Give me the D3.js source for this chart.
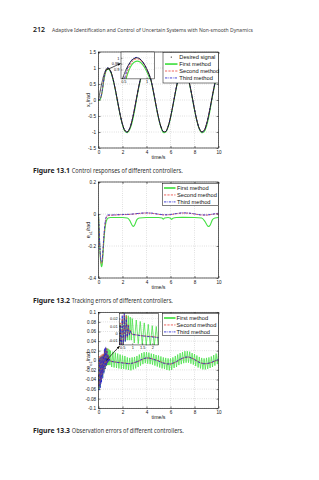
<!DOCTYPE html>
<html><head><meta charset="utf-8">
<script src="https://cdn.jsdelivr.net/npm/d3@7"></script>
<style>body{margin:0;background:#fff}svg{display:block}</style>
</head><body><svg id="c" width="319" height="480"></svg>
<script>
// ---------- text ----------
const headerPage = "212";
const headerTitle = "Adaptive Identification and Control of Uncertain Systems with Non-smooth Dynamics";
const captionLabels = ["Figure 13.1", "Figure 13.2", "Figure 13.3"];
const captionTexts = ["Control responses of different controllers.", "Tracking errors of different controllers.", "Observation errors of different controllers."];
const legend1 = ["Desired signal", "First method", "Second method", "Third method"];
const legend23 = ["First method", "Second method", "Third method"];
const xLabel = "time/s";

// ---------- ticks ----------
const xTicks = [0, 2, 4, 6, 8, 10];
const fig1YTicks = [-1.5, -1, -0.5, 0, 0.5, 1, 1.5];
const fig2YTicks = [-0.4, -0.2, 0, 0.2];
const fig3YTicks = [-0.1, -0.08, -0.06, -0.04, -0.02, 0, 0.02, 0.04, 0.06, 0.08, 0.1];
const inset1XTicks = [0.5, 1];
const inset1YTicks = [0.9, 0.95, 1];
const inset3XTicks = [0.5, 1, 1.5, 2];
const inset3YTicks = [-0.01, 0, 0.01, 0.02];

// ---------- Figure 13.1 data ----------
const fig1Time = [0,0.1,0.2,0.3,0.4,0.5,0.6,0.7,0.8,1,1.2,1.4,1.6,1.8,2,2.2,2.4,2.6,2.8,3,3.2,3.4,3.6,3.8,4,4.2,4.4,4.6,4.8,5,5.2,5.4,5.6,5.8,6,6.2,6.4,6.6,6.8,7,7.2,7.4,7.6,7.8,8,8.2,8.4,8.6,8.8,9,9.2,9.4,9.6,9.8,10];
const fig1Desired = [0,0.199,0.389,0.565,0.717,0.841,0.932,0.985,1.000,0.909,0.675,0.335,-0.058,-0.443,-0.757,-0.952,-0.996,-0.883,-0.631,-0.279,0.117,0.494,0.794,0.968,0.989,0.855,0.585,0.223,-0.175,-0.544,-0.828,-0.981,-0.980,-0.825,-0.537,-0.166,0.231,0.592,0.859,0.991,0.966,0.788,0.487,0.108,-0.288,-0.638,-0.887,-0.996,-0.951,-0.751,-0.436,-0.050,0.342,0.680,0.913];
const fig1First = [0,-0.001,0.079,0.245,0.497,0.721,0.872,0.950,0.975,0.887,0.653,0.313,-0.080,-0.465,-0.779,-0.974,-1.021,-0.923,-0.701,-0.349,0.082,0.472,0.772,0.946,0.967,0.833,0.563,0.201,-0.197,-0.566,-0.850,-1.013,-1.003,-0.847,-0.563,-0.192,0.209,0.570,0.837,0.970,0.944,0.766,0.465,0.086,-0.310,-0.660,-0.909,-1.021,-0.991,-0.820,-0.514,-0.085,0.317,0.658,0.891];
const fig1Second = [0,0.009,0.089,0.255,0.517,0.741,0.892,0.970,0.990,0.901,0.669,0.330,-0.062,-0.447,-0.760,-0.955,-0.999,-0.886,-0.632,-0.279,0.119,0.498,0.799,0.974,0.995,0.859,0.587,0.222,-0.177,-0.546,-0.833,-0.987,-0.987,-0.830,-0.539,-0.166,0.233,0.596,0.865,0.997,0.971,0.792,0.487,0.107,-0.290,-0.643,-0.893,-1.003,-0.958,-0.756,-0.437,-0.052,0.341,0.681,0.917];
const fig1Third = [0,0.019,0.099,0.275,0.537,0.771,0.922,0.990,1.003,0.903,0.670,0.331,-0.061,-0.446,-0.760,-0.955,-0.999,-0.886,-0.632,-0.279,0.119,0.498,0.799,0.974,0.995,0.859,0.587,0.222,-0.177,-0.546,-0.833,-0.987,-0.987,-0.830,-0.539,-0.166,0.233,0.596,0.865,0.997,0.971,0.792,0.487,0.107,-0.290,-0.643,-0.893,-1.003,-0.958,-0.756,-0.437,-0.052,0.341,0.681,0.917];
// zoomed inset of Figure 13.1
const inset1Time = [0.45,0.5,0.55,0.6,0.65,0.7,0.75,0.8,0.85,0.9,0.95,1,1.05,1.1,1.15];
const inset1Desired = [0.783,0.841,0.891,0.932,0.964,0.985,0.997,1.000,0.992,0.974,0.946,0.909,0.863,0.808,0.746];
const inset1First = [0.61,0.72,0.806,0.872,0.919,0.950,0.967,0.972,0.966,0.949,0.922,0.886,0.840,0.785,0.724];
const inset1Second = [0.63,0.74,0.83,0.897,0.944,0.973,0.988,0.992,0.984,0.966,0.938,0.901,0.855,0.800,0.738];
const inset1Third = [0.66,0.77,0.86,0.922,0.964,0.990,1.002,1.003,0.993,0.972,0.943,0.905,0.858,0.802,0.740];

// ---------- Figure 13.2 data ----------
const fig2TimeFirst = [0,0.05,0.1,0.15,0.2,0.25,0.3,0.35,0.4,0.5,0.6,0.7,0.8,1,1.5,2,2.4,2.6,2.8,2.9,3,3.2,3.4,4,5,5.3,5.4,5.5,5.8,6,6.1,6.2,6.5,7,8,8.6,8.9,9.1,9.2,9.3,9.5,9.7,10];
const fig2First = [0,-0.10,-0.20,-0.27,-0.31,-0.33,-0.32,-0.28,-0.22,-0.12,-0.06,-0.035,-0.025,-0.022,-0.022,-0.022,-0.025,-0.04,-0.07,-0.078,-0.07,-0.035,-0.025,-0.022,-0.022,-0.025,-0.032,-0.025,-0.022,-0.026,-0.034,-0.026,-0.022,-0.021,-0.022,-0.025,-0.05,-0.075,-0.078,-0.07,-0.035,-0.025,-0.022];
const fig2TimeOther = [0,0.05,0.1,0.15,0.2,0.25,0.3,0.35,0.4,0.5,0.6,0.7,0.8,1,1.5,2,2.5,3,3.5,4,4.5,5,5.5,6,6.5,7,7.5,8,8.5,9,9.5,10];
const fig2Second = [0,-0.09,-0.19,-0.26,-0.30,-0.31,-0.30,-0.26,-0.20,-0.10,-0.04,-0.015,-0.01,-0.008,-0.006,-0.004,-0.003,0,0.004,0.006,0.004,-0.002,-0.006,-0.004,0.002,0.006,0.005,0,-0.006,-0.007,-0.002,0.004];
const fig2Third = [0,-0.085,-0.18,-0.25,-0.29,-0.30,-0.29,-0.25,-0.19,-0.09,-0.03,-0.01,-0.005,-0.006,-0.005,-0.003,-0.002,0.001,0.005,0.007,0.005,-0.001,-0.005,-0.003,0.003,0.007,0.006,0.001,-0.005,-0.006,-0.001,0.005];

// ---------- Figure 13.3 data ----------
const fig3TimeFirst = [0,0.05,0.1,0.15,0.2,0.25,0.3,0.35,0.4,0.45,0.5,0.55,0.6,0.65,0.7,0.75,0.8,0.85,0.9,0.95,1,
 1.1,1.2,1.3,1.4,1.5,1.6,1.7,1.8,1.9,2,2.1,2.2,2.3,2.4,2.5,2.6,2.7,2.8,2.9,3,3.1,3.2,3.3,3.4,3.5,3.6,3.7,3.8,3.9,4,
 4.1,4.2,4.3,4.4,4.5,4.6,4.7,4.8,4.9,5,5.1,5.2,5.3,5.4,5.5,5.6,5.7,5.8,5.9,6,6.1,6.2,6.3,6.4,6.5,6.6,6.7,6.8,6.9,7,
 7.1,7.2,7.3,7.4,7.5,7.6,7.7,7.8,7.9,8,8.1,8.2,8.3,8.4,8.5,8.6,8.7,8.8,8.9,9,9.1,9.2,9.3,9.4,9.5,9.6,9.7,9.8,9.9,10];
const fig3First = [-0.03,-0.06,0.005,-0.055,0.008,-0.045,0.01,-0.035,0.012,-0.025,0.018,-0.018,0.022,-0.012,0.025,-0.010,0.024,-0.010,0.022,-0.010,0.020,
 -0.014,0.018,-0.015,0.016,-0.016,0.014,-0.017,0.012,-0.018,0.010,-0.018,0.009,-0.019,0.006,-0.020,0.005,-0.021,0.006,-0.019,0.007,
 -0.017,0.009,-0.014,0.012,-0.011,0.015,-0.008,0.017,-0.006,0.017,-0.007,0.016,-0.008,0.014,-0.009,0.013,-0.011,0.011,-0.013,0.010,
 -0.015,0.008,-0.017,0.006,-0.018,0.005,-0.020,0.004,-0.021,0.004,-0.020,0.006,-0.016,0.009,-0.014,0.012,-0.010,0.015,-0.008,0.017,
 -0.006,0.019,-0.005,0.019,-0.005,0.018,-0.007,0.015,-0.009,0.013,-0.012,0.010,-0.015,0.007,-0.017,0.005,-0.019,0.004,-0.019,0.005,
 -0.018,0.006,-0.016,0.008,-0.014,0.011,-0.011,0.014,-0.008,0.016];
const fig3TimeOther = [0,0.05,0.1,0.15,0.2,0.25,0.3,0.35,0.4,0.45,0.5,0.55,0.6,0.65,0.7,0.75,0.8,0.85,0.9,0.95,1,
 1.25,1.5,1.75,2,2.25,2.5,2.75,3,3.25,3.5,3.75,4,4.25,4.5,4.75,5,5.25,5.5,5.75,6,6.25,6.5,6.75,7,7.25,7.5,7.75,8,8.25,8.5,8.75,9,9.25,9.5,9.75,10];
const fig3Second = [-0.03,-0.055,0.008,-0.05,0.01,-0.04,0.012,-0.03,0.014,-0.022,0.02,-0.015,0.026,-0.01,0.024,-0.006,0.012,-0.002,0.004,0.0,-0.002,
 -0.003,-0.004,-0.0045,-0.005,-0.006,-0.007,-0.0065,-0.005,-0.003,0.000,0.003,0.005,0.0045,0.003,0.001,-0.001,-0.004,-0.006,-0.0075,-0.008,-0.006,-0.003,0.001,0.004,0.006,0.007,0.005,0.002,-0.002,-0.005,-0.007,-0.007,-0.006,-0.004,-0.001,0.001];
const fig3Third = [-0.03,-0.062,0.004,-0.058,0.006,-0.048,0.008,-0.038,0.01,-0.028,0.025,-0.018,0.028,-0.012,0.02,-0.006,0.01,-0.003,0.003,-0.001,-0.002,
 -0.003,-0.004,-0.005,-0.0055,-0.0065,-0.007,-0.0065,-0.0045,-0.0025,0.0005,0.0035,0.005,0.0045,0.0025,0.0005,-0.0015,-0.0045,-0.0065,-0.0075,-0.0075,-0.0055,-0.0025,0.0015,0.0045,0.0065,0.007,0.0045,0.0015,-0.0025,-0.0055,-0.007,-0.007,-0.0055,-0.0035,-0.0005,0.0015];

// annotation arrows (data units of parent axes) and inset placement (data units)
const arrow1 = [[0.67, 0.94], [1.83, 1.14]];
const arrow3 = [[0.63, -0.001], [1.75, 0.0295]];
const inset1Box = {t0: 1.875, t1: 4.67, v0: 0.66, v1: 1.5};
const inset1XDomain = [0.45, 1.17], inset1YDomain = [0.82, 1.05];
const inset3Box = {t0: 1.73, t1: 4.98, v0: 0.032, v1: 0.098};
const inset3XDomain = [0.35, 2.3], inset3YDomain = [-0.0167, 0.0274];

// ---------- styles ----------
const FONT = "'Liberation Sans', Arial, Helvetica, sans-serif";
const BOOK = "'Noto Sans', 'Open Sans', sans-serif";
const sFirst = {stroke: "#44e044", width: 1.1, dash: null, legendWidth: 1.7};
const sSecond = {stroke: "#e8332b", width: 0.75, dash: "2.2,1.2"};
const sThird = {stroke: "#2626d0", width: 0.85, dash: "2.4,0.9,0.6,0.9"};
const sDesired = {stroke: "#000", width: 1.0, dash: "0.1,1.1", cap: "round"};
const sFirstThin = {stroke: "#44e044", width: 0.75, dash: null};

const svg = d3.select("#c");
const X0 = 98.5, X1 = 218.5, H = 96;
const tops = [52, 182, 312.3];
const fmt = v => String(v);

svg.append("defs").append("marker").attr("id", "arr").attr("viewBox", "0 0 10 10")
  .attr("refX", 9).attr("refY", 5).attr("markerWidth", 4.5).attr("markerHeight", 4.5)
  .attr("orient", "auto").append("path").attr("d", "M0,1 L10,5 L0,9 z").attr("fill", "#000");

// ---------- header ----------
svg.append("text").attr("x", 33).attr("y", 31.5).attr("font-family", BOOK).attr("font-size", 7)
  .attr("font-weight", 600).attr("fill", "#222").text(headerPage);
svg.append("text").attr("x", 52).attr("y", 31.5).attr("font-family", BOOK).attr("font-size", 6)
  .attr("fill", "#444").attr("textLength", 201).attr("lengthAdjust", "spacingAndGlyphs").text(headerTitle);

// ---------- captions ----------
const capRestLen = [111, 101, 112];
tops.forEach((t, i) => {
  const yb = t + 121;
  svg.append("text").attr("x", 33).attr("y", yb).attr("font-family", BOOK).attr("font-size", 6.3)
    .attr("font-weight", 700).attr("fill", "#222").attr("textLength", 37).attr("lengthAdjust", "spacingAndGlyphs").text(captionLabels[i]);
  svg.append("text").attr("x", 71.8).attr("y", yb).attr("font-family", BOOK).attr("font-size", 6.3)
    .attr("fill", "#333").attr("textLength", capRestLen[i]).attr("lengthAdjust", "spacingAndGlyphs").text(captionTexts[i]);
});

function panel(idx, yDomain, yTicks, ylab, ysub) {
  const top = tops[idx];
  const x = d3.scaleLinear().domain([0, 10]).range([X0, X1]);
  const y = d3.scaleLinear().domain(yDomain).range([top + H, top]);
  const g = svg.append("g");
  g.append("rect").attr("x", X0).attr("y", top).attr("width", X1 - X0).attr("height", H).attr("fill", "#fff");
  const grid = g.append("g").attr("stroke", "#a8a8a8").attr("stroke-width", 0.5).attr("stroke-dasharray", "0.7,1.5");
  grid.selectAll(".gx").data(xTicks).join("line").attr("x1", d => x(d)).attr("x2", d => x(d)).attr("y1", top).attr("y2", top + H);
  grid.selectAll(".gy").data(yTicks).join("line").attr("class", "gy").attr("x1", X0).attr("x2", X1).attr("y1", d => y(d)).attr("y2", d => y(d));
  const styleAxis = a => { a.select(".domain").remove(); a.selectAll("line").attr("stroke", "#000").attr("stroke-width", 0.5);
    a.attr("font-size", 4.6).attr("font-family", FONT); a.selectAll("text").attr("fill", "#111"); };
  g.append("g").attr("transform", `translate(0,${top + H})`)
    .call(d3.axisBottom(x).tickValues(xTicks).tickSize(-2).tickPadding(2.5).tickFormat(fmt)).call(styleAxis);
  g.append("g").attr("transform", `translate(${X0},0)`)
    .call(d3.axisLeft(y).tickValues(yTicks).tickSize(-2).tickPadding(2.5).tickFormat(fmt)).call(styleAxis);
  g.append("g").attr("transform", `translate(0,${top})`)
    .call(d3.axisTop(x).tickValues(xTicks).tickSize(-2).tickFormat("")).call(styleAxis);
  g.append("g").attr("transform", `translate(${X1},0)`)
    .call(d3.axisRight(y).tickValues(yTicks).tickSize(-2).tickFormat("")).call(styleAxis);
  const cid = "clip" + idx;
  svg.append("clipPath").attr("id", cid).append("rect").attr("x", X0).attr("y", top).attr("width", X1 - X0).attr("height", H);
  const plot = g.append("g").attr("clip-path", `url(#${cid})`);
  const frame = () => g.append("rect").attr("x", X0).attr("y", top).attr("width", X1 - X0).attr("height", H)
    .attr("fill", "none").attr("stroke", "#000").attr("stroke-width", 0.6);
  g.append("text").attr("x", (X0 + X1) / 2).attr("y", top + H + 10.6).attr("text-anchor", "middle")
    .attr("font-family", FONT).attr("font-size", 5.2).attr("fill", "#111").text(xLabel);
  const yl = g.append("text").attr("transform", `translate(90,${top + H / 2}) rotate(-90)`).attr("text-anchor", "middle")
    .attr("font-family", FONT).attr("font-size", 5.4).attr("fill", "#111");
  yl.append("tspan").text(ylab);
  yl.append("tspan").attr("font-size", 4).attr("dy", 1.5).text(ysub);
  yl.append("tspan").attr("dy", -1.5).text("/rad");
  return {x, y, g, plot, frame, top};
}

function drawLine(target, xs, ys, tArr, vArr, st, curve) {
  const pts = tArr.map((t, i) => [t, vArr[i]]);
  const line = d3.line().x(d => xs(d[0])).y(d => ys(d[1])).curve(curve || d3.curveLinear);
  const p = target.append("path").attr("d", line(pts)).attr("fill", "none").attr("stroke", st.stroke)
    .attr("stroke-width", st.width).attr("stroke-linejoin", "round");
  if (st.dash) p.attr("stroke-dasharray", st.dash);
  if (st.cap) p.attr("stroke-linecap", st.cap);
  return p;
}

function legend(g, bx, by, bw, bh, names, styles, textX, lineX0, lineX1) {
  const lg = g.append("g");
  lg.append("rect").attr("x", bx).attr("y", by).attr("width", bw).attr("height", bh)
    .attr("fill", "#fff").attr("stroke", "#000").attr("stroke-width", 0.5);
  names.forEach((n, i) => {
    const cy = by + 4.6 + i * 6.95;
    const st = styles[i];
    if (st === "dot") {
      lg.append("circle").attr("cx", (lineX0 + lineX1) / 2).attr("cy", cy).attr("r", 0.55).attr("fill", "#000");
    } else {
      const l = lg.append("line").attr("x1", lineX0).attr("x2", lineX1).attr("y1", cy).attr("y2", cy)
        .attr("stroke", st.stroke).attr("stroke-width", st.legendWidth || st.width);
      if (st.dash) l.attr("stroke-dasharray", st.dash);
    }
    lg.append("text").attr("x", textX).attr("y", cy + 2).attr("font-family", FONT).attr("font-size", 5.7)
      .attr("fill", "#111").text(n);
  });
}

function inset(P, box, xDom, yDom, xT, yT, draw) {
  const px0 = P.x(box.t0), px1 = P.x(box.t1), py0 = P.y(box.v1), py1 = P.y(box.v0);
  const ix = d3.scaleLinear().domain(xDom).range([px0, px1]);
  const iy = d3.scaleLinear().domain(yDom).range([py1, py0]);
  const g = P.g.append("g");
  g.append("rect").attr("x", px0).attr("y", py0).attr("width", px1 - px0).attr("height", py1 - py0).attr("fill", "#fff");
  const grid = g.append("g").attr("stroke", "#b5b5b5").attr("stroke-width", 0.4).attr("stroke-dasharray", "0.6,1.4");
  grid.selectAll(".a").data(xT).join("line").attr("x1", d => ix(d)).attr("x2", d => ix(d)).attr("y1", py0).attr("y2", py1);
  grid.selectAll(".b").data(yT).join("line").attr("class", "b").attr("x1", px0).attr("x2", px1).attr("y1", d => iy(d)).attr("y2", d => iy(d));
  const cid = "ic" + Math.round(px0 * 10);
  svg.append("clipPath").attr("id", cid).append("rect").attr("x", px0).attr("y", py0).attr("width", px1 - px0).attr("height", py1 - py0);
  const pl = g.append("g").attr("clip-path", `url(#${cid})`);
  draw(pl, ix, iy);
  const sa = a => { a.select(".domain").remove(); a.selectAll("line").attr("stroke", "#000").attr("stroke-width", 0.4);
    a.attr("font-size", 3.9).attr("font-family", FONT); a.selectAll("text").attr("fill", "#111"); };
  g.append("g").attr("transform", `translate(0,${py1})`).call(d3.axisBottom(ix).tickValues(xT).tickSize(-1.5).tickPadding(1.6).tickFormat(fmt)).call(sa);
  g.append("g").attr("transform", `translate(${px0},0)`).call(d3.axisLeft(iy).tickValues(yT).tickSize(-1.5).tickPadding(1.6).tickFormat(fmt)).call(sa);
  g.append("rect").attr("x", px0).attr("y", py0).attr("width", px1 - px0).attr("height", py1 - py0)
    .attr("fill", "none").attr("stroke", "#000").attr("stroke-width", 0.5);
}

function arrow(P, a) {
  P.g.append("line").attr("x1", P.x(a[0][0])).attr("y1", P.y(a[0][1])).attr("x2", P.x(a[1][0])).attr("y2", P.y(a[1][1]))
    .attr("stroke", "#000").attr("stroke-width", 0.7).attr("marker-end", "url(#arr)");
}

// ---------- Figure 13.1 ----------
const P1 = panel(0, [-1.5, 1.5], fig1YTicks, "x", "1");
drawLine(P1.plot, P1.x, P1.y, fig1Time, fig1First, sFirst, d3.curveCatmullRom);
drawLine(P1.plot, P1.x, P1.y, fig1Time, fig1Second, sSecond, d3.curveCatmullRom);
drawLine(P1.plot, P1.x, P1.y, fig1Time, fig1Third, sThird, d3.curveCatmullRom);
drawLine(P1.plot, P1.x, P1.y, fig1Time, fig1Desired, sDesired, d3.curveCatmullRom);
P1.frame();
inset(P1, inset1Box, inset1XDomain, inset1YDomain, inset1XTicks, inset1YTicks, (pl, ix, iy) => {
  drawLine(pl, ix, iy, inset1Time, inset1First, sFirst, d3.curveCatmullRom);
  drawLine(pl, ix, iy, inset1Time, inset1Second, sSecond, d3.curveCatmullRom);
  drawLine(pl, ix, iy, inset1Time, inset1Third, sThird, d3.curveCatmullRom);
  drawLine(pl, ix, iy, inset1Time, inset1Desired, sDesired, d3.curveCatmullRom);
});
arrow(P1, arrow1);
legend(P1.g, 163, 52.5, 55.5, 30.5, legend1, ["dot", sFirst, sSecond, sThird], 179.3, 165, 177.5);

// ---------- Figure 13.2 ----------
const P2 = panel(1, [-0.4, 0.2], fig2YTicks, "e", "c1");
drawLine(P2.plot, P2.x, P2.y, fig2TimeFirst, fig2First, sFirst, d3.curveMonotoneX);
drawLine(P2.plot, P2.x, P2.y, fig2TimeOther, fig2Second, sSecond, d3.curveMonotoneX);
drawLine(P2.plot, P2.x, P2.y, fig2TimeOther, fig2Third, sThird, d3.curveMonotoneX);
P2.frame();
legend(P2.g, 162.3, 183.4, 56.2, 22.2, legend23, [sFirst, sSecond, sThird], 177, 164, 175.5);

// ---------- Figure 13.3 ----------
const P3 = panel(2, [-0.1, 0.1], fig3YTicks, "e", "o1");
drawLine(P3.plot, P3.x, P3.y, fig3TimeFirst, fig3First, sFirstThin);
drawLine(P3.plot, P3.x, P3.y, fig3TimeOther, fig3Second, sSecond);
drawLine(P3.plot, P3.x, P3.y, fig3TimeOther, fig3Third, sThird);
P3.frame();
inset(P3, inset3Box, inset3XDomain, inset3YDomain, inset3XTicks, inset3YTicks, (pl, ix, iy) => {
  drawLine(pl, ix, iy, fig3TimeFirst, fig3First, sFirstThin);
  drawLine(pl, ix, iy, fig3TimeOther, fig3Second, sSecond);
  drawLine(pl, ix, iy, fig3TimeOther, fig3Third, sThird);
});
arrow(P3, arrow3);
legend(P3.g, 162.3, 313.4, 56.2, 22.2, legend23, [sFirst, sSecond, sThird], 176.5, 164, 175.5);
</script></body></html>
